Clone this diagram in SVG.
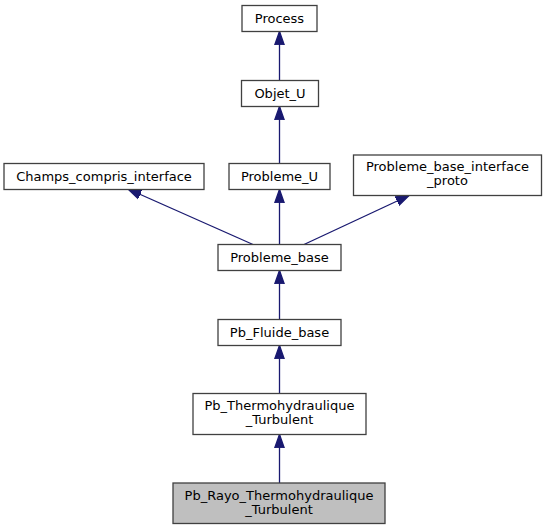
<svg xmlns="http://www.w3.org/2000/svg" width="546" height="529" viewBox="0 0 546 529">
<style>
.box{fill:#ffffff;stroke:#404040;stroke-width:1.3}
.cur{fill:#bfbfbf;stroke:#404040;stroke-width:1.3}
.lbl{font-family:"DejaVu Sans","Liberation Sans",sans-serif;font-size:13px;fill:#000000;text-anchor:middle}
.edge{fill:none;stroke:#191970;stroke-width:1.3;marker-end:url(#arr)}
</style>
<defs>
<marker id="arr" markerUnits="userSpaceOnUse" markerWidth="16" markerHeight="12" refX="13.3" refY="0" viewBox="0 -6 16 12" orient="auto">
<path d="M0,-4.7 L13.3,0 L0,4.7 Z" fill="#191970" stroke="#191970" stroke-width="1.3"/>
</marker>
</defs>
<rect width="546" height="529" fill="#ffffff"/>
<g id="edges">
<path class="edge" d="M279.5,80.5 L279.5,31.5"/>
<path class="edge" d="M279.5,163.5 L279.5,106.5"/>
<path class="edge" d="M279.5,244.5 L279.5,189.5"/>
<path class="edge" d="M253,244.5 L128,189"/>
<path class="edge" d="M304,244.5 L409,195.5"/>
<path class="edge" d="M279.5,319.5 L279.5,270.5"/>
<path class="edge" d="M279.5,393.5 L279.5,345.5"/>
<path class="edge" d="M279.5,483 L279.5,434.5"/>
</g>
<g id="node_Process">
<rect class="box" x="242" y="5.5" width="75" height="26"/>
<text class="lbl" x="279.5" y="23">Process</text>
</g>
<g id="node_Objet_U">
<rect class="box" x="241.5" y="80.5" width="77" height="26"/>
<text class="lbl" x="280" y="98">Objet_U</text>
</g>
<g id="node_Champs_compris_interface">
<rect class="box" x="4" y="163.5" width="200" height="26"/>
<text class="lbl" x="104" y="181">Champs_compris_interface</text>
</g>
<g id="node_Probleme_U">
<rect class="box" x="229" y="163.5" width="101" height="26"/>
<text class="lbl" x="279.5" y="181">Probleme_U</text>
</g>
<g id="node_Probleme_base_interface_proto">
<rect class="box" x="353.5" y="155" width="188" height="40.5"/>
<text class="lbl" x="447.5" y="171">Probleme_base_interface</text>
<text class="lbl" x="447.5" y="185">_proto</text>
</g>
<g id="node_Probleme_base">
<rect class="box" x="218" y="244.5" width="123" height="26"/>
<text class="lbl" x="279.5" y="262">Probleme_base</text>
</g>
<g id="node_Pb_Fluide_base">
<rect class="box" x="218" y="319.5" width="123" height="26"/>
<text class="lbl" x="279.5" y="337">Pb_Fluide_base</text>
</g>
<g id="node_Pb_Thermohydraulique_Turbulent">
<rect class="box" x="193" y="393.5" width="173" height="41"/>
<text class="lbl" x="279.5" y="410">Pb_Thermohydraulique</text>
<text class="lbl" x="279.5" y="424">_Turbulent</text>
</g>
<g id="node_Pb_Rayo_Thermohydraulique_Turbulent">
<rect class="cur" x="173" y="483" width="212" height="40.5"/>
<text class="lbl" x="279" y="499.5">Pb_Rayo_Thermohydraulique</text>
<text class="lbl" x="279" y="513.5">_Turbulent</text>
</g>
</svg>
